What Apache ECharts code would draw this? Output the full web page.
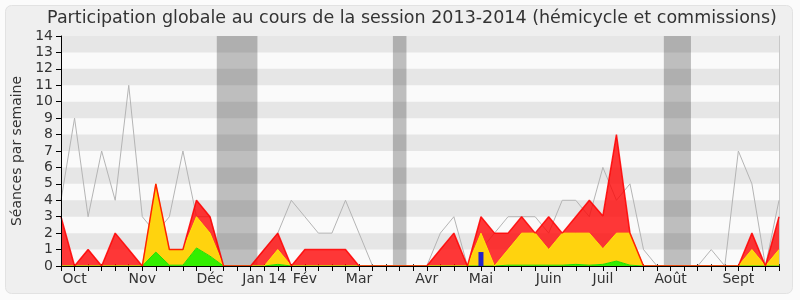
<!DOCTYPE html>
<html>
<head>
<meta charset="utf-8">
<script src="https://cdn.jsdelivr.net/npm/echarts@6/dist/echarts.min.js"></script>
<style>html,body{margin:0;padding:0;background:#fbfbfb;}#c{width:800px;height:300px;}</style>
</head>
<body>
<div id="c"></div>
<script>
// Week labels (54 weeks, month name on its first week)
var monthLabels = {1:'Oct',6:'Nov',11:'Déc',15:'Jan 14',18:'Fév',22:'Mar',27:'Avr',31:'Mai',36:'Juin',40:'Juil',45:'Août',50:'Sept'};
var weeks = [];
for (var i = 0; i < 54; i++) weeks.push(monthLabels[i] || '');

// Stacked series values (per week)
var green = [0,0,0,0,0,0,0,0.85,0.05,0.05,1.1,0.6,0,0,0,0,0.1,
  0,0,0,0,0,0,0,0,0,0,0,0,0,0,0,0,
  0.05,0.05,0.05,0.05,0.05,0.1,0.05,0.1,0.3,0.05,
  0,0,0,0,0,0,0,0,0,0,0];
var yellow = [0,0,0,0,0,0,0,4.15,0.95,0.95,1.9,1.4,0,0,0,0,0.9,
  0,0,0,0,0,0,0,0,0,0,0,0,0,0,
  2,0,0.95,1.95,1.95,0.95,1.95,1.9,1.95,0.95,1.7,1.95,
  0,0,0,0,0,0,0,0,1,0,1];
var red = [3,0,1,0,2,1,0,0,0,0,1,1,0,0,0,1,1,0,1,1,1,1,0,0,0,0,0,0,1,2,0,
  1,2,1,1,0,2,0,1,2,2,6,0,
  0,0,0,0,0,0,0,0,1,0,2];
var median = [4,9,3,7,4,11,3,2,3,7,3,3,0,0,0,1,2,4,3,2,2,4,2,0,0,0,0,0,2,3,0,
  1,2,3,3,3,2,4,4,3,6,4,5,1,0,0,0,0,1,0,7,5,0,4];
var blueWeek = 31, blueValue = 0.85;
var blue = weeks.map(function(_, i){ return i === blueWeek ? blueValue : null; });

// Holiday bands (week ranges) and stripes
var holidays = [[11.5,14.5],[24.5,25.5],[44.5,46.5]];
var stripes = [[1,2],[3,4],[5,6],[7,8],[9,10],[11,12],[13,14]];

var FONT = 'DejaVu Sans';
var chart = echarts.init(document.getElementById('c'));
chart.setOption({
  animation: false,
  backgroundColor: '#fbfbfb',
  graphic: [
    {type:'rect', z:-10, shape:{x:5.5,y:5.5,width:787,height:288,r:6}, style:{fill:'#efefef', stroke:'#e2e2e2', lineWidth:1}},
    {type:'text', z:10, x:412, y:18, style:{text:'Participation globale au cours de la session 2013-2014 (hémicycle et commissions)', font:'17.5px "DejaVu Sans"', fill:'#333', align:'center', verticalAlign:'middle'}}
  ],
  grid: {left:61, right:21, top:36, bottom:34, show:true, backgroundColor:'#fafafa', borderWidth:0},
  xAxis: [
    {type:'category', data:weeks, boundaryGap:false, position:'bottom', z:10,
     axisLine:{lineStyle:{color:'#000', width:1}},
     axisTick:{interval:0, length:5, lineStyle:{color:'#000'}},
     axisLabel:{interval:0, fontFamily:FONT, fontSize:14, color:'#333', margin:6},
     splitLine:{show:false}},
    {type:'value', min:0, max:53, interval:1, position:'top',
     axisLine:{show:false}, axisTick:{show:true, length:2, lineStyle:{color:'#333'}},
     axisLabel:{show:false}, splitLine:{show:false}}
  ],
  yAxis: [
    {type:'value', min:0, max:14, interval:1, z:10,
     name:'Séances par semaine', nameLocation:'middle', nameGap:36,
     nameTextStyle:{fontFamily:FONT, fontSize:14, color:'#333'},
     axisLine:{show:true, lineStyle:{color:'#000'}},
     axisTick:{show:true, length:5, lineStyle:{color:'#000'}},
     axisLabel:{fontFamily:FONT, fontSize:14, color:'#333', margin:8},
     splitLine:{show:false}},
    {type:'value', min:0, max:14, interval:1, position:'right',
     axisLine:{show:true, lineStyle:{color:'#c8c8c8'}}, axisTick:{show:false}, axisLabel:{show:false}, splitLine:{show:false}}
  ],
  series: [
    {type:'line', xAxisIndex:1, data:[[0,0]], symbol:'none', lineStyle:{opacity:0}, z:1, silent:true,
     markArea:{silent:true, itemStyle:{color:'#bebebe'}, data: holidays.map(function(h){return [{xAxis:h[0]},{xAxis:h[1]}];})}},
    {type:'line', xAxisIndex:1, data:[[0,0]], symbol:'none', lineStyle:{opacity:0}, z:1, silent:true,
     markArea:{silent:true, itemStyle:{color:'rgba(0,0,0,0.08)'}, data: stripes.map(function(s){return [{yAxis:s[0]},{yAxis:s[1]}];})}},
    {name:'median', type:'line', data:median, symbol:'none', z:3, lineStyle:{color:'#b4b4b4', width:1}},
    {name:'green', type:'line', stack:'t', data:green, symbol:'none', z:4,
     lineStyle:{color:'#22dd00', width:1}, areaStyle:{color:'#33ee00', opacity:1}},
    {name:'yellow', type:'line', stack:'t', data:yellow, symbol:'none', z:4,
     lineStyle:{color:'#ffe600', width:1}, areaStyle:{color:'#ffd30e', opacity:1}},
    {name:'red', type:'line', stack:'t', data:red, symbol:'none', z:4,
     lineStyle:{color:'rgba(255,0,0,0.85)', width:1.5}, areaStyle:{color:'rgba(255,0,0,0.78)', opacity:1}},
    {name:'blue', type:'bar', data:blue, barWidth:5, z:6, itemStyle:{color:'#2222cc'}}
  ]
});
</script>
</body>
</html>
